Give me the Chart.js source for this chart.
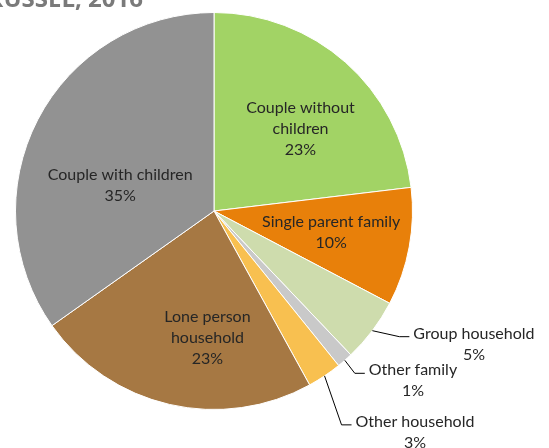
<!DOCTYPE html>
<html>
<head>
<meta charset="utf-8">
<script src="https://cdn.jsdelivr.net/npm/chart.js@4.4.1/dist/chart.umd.min.js"></script>
<style>
html,body{margin:0;padding:0;background:#fff;}
#wrap{width:549px;height:448px;position:relative;}
</style>
</head>
<body>
<div id="wrap"><canvas id="c" width="549" height="448"></canvas></div>
<script>
// Data
const categories = ["Couple without children","Single parent family","Group household","Other family","Other household","Lone person household","Couple with children"];
const labelLines = [["Couple without","children"],["Single parent family"],["Group household"],["Other family"],["Other household"],["Lone person","household"],["Couple with children"]];
const shares = [23.1, 9.6, 5.2, 1.3, 2.8, 23.2, 34.8];
const colors = ["#A2D365","#E8800A","#CEDCAD","#C9C9C9","#F8C050","#A67843","#929292"];
const titleText = "HOUSEHOLD COMPOSITION, RUSSEL, 2016";

// label placement (style): inside = polar offset; outside = leader line
const placement = [
  {type:"in", r:0.60, da:5},
  {type:"in", r:0.60, da:0},
  {type:"out", elbow:[27,6], tail:10},
  {type:"out", elbow:[10,13], tail:10},
  {type:"out", elbow:[17,49], tail:10},
  {type:"in", r:0.64, da:-10},
  {type:"in", r:0.49, da:-12}
];

const FONT = "16px Lato";
const LH = 21;
const TXT = "#262626";

const labelPlugin = {
  id: "pieLabels",
  afterDatasetsDraw(chart) {
    const ctx = chart.ctx;
    const meta = chart.getDatasetMeta(0);
    ctx.save();
    ctx.font = FONT;
    ctx.fillStyle = TXT;
    ctx.textBaseline = "middle";
    meta.data.forEach((arc, i) => {
      const p = arc.getProps(["x","y","startAngle","endAngle","outerRadius"], true);
      const mid = (p.startAngle + p.endAngle) / 2;
      const pl = placement[i];
      const lines = labelLines[i].concat([Math.round(shares[i]) + "%"]);
      if (pl.type === "in") {
        const a = mid + pl.da * Math.PI / 180;
        const cx = p.x + Math.cos(a) * p.outerRadius * pl.r;
        const cy = p.y + Math.sin(a) * p.outerRadius * pl.r;
        ctx.textAlign = "center";
        const y0 = cy - (lines.length - 1) * LH / 2;
        lines.forEach((t, k) => ctx.fillText(t, cx, y0 + k * LH));
      } else {
        const sx = p.x + Math.cos(mid) * p.outerRadius;
        const sy = p.y + Math.sin(mid) * p.outerRadius;
        const ex = sx + pl.elbow[0], ey = sy + pl.elbow[1];
        const tx = ex + pl.tail;
        ctx.strokeStyle = "#000";
        ctx.lineWidth = 1;
        ctx.beginPath();
        ctx.moveTo(sx, sy); ctx.lineTo(ex, ey); ctx.lineTo(tx, ey);
        ctx.stroke();
        const w = ctx.measureText(lines[0]).width;
        const cx = tx + 4 + w / 2;
        ctx.textAlign = "center";
        ctx.fillText(lines[0], cx, ey - 3);
        ctx.fillText(lines[1], cx, ey - 3 + LH);
      }
    });
    ctx.restore();
  }
};

const titlePlugin = {
  id: "cutTitle",
  afterDraw(chart) {
    const ctx = chart.ctx;
    ctx.save();
    ctx.font = "bold 24px 'Open Sans'";
    ctx.fillStyle = "#7a7a7a";
    ctx.textAlign = "right";
    ctx.textBaseline = "alphabetic";
    ctx.fillText(titleText, 143, 7);
    ctx.restore();
  }
};

new Chart(document.getElementById("c"), {
  type: "pie",
  data: {
    labels: categories,
    datasets: [{
      data: shares,
      backgroundColor: colors,
      borderColor: "#ffffff",
      borderWidth: 1
    }]
  },
  options: {
    responsive: false,
    animation: false,
    layout: { padding: { left: 15, right: 136, top: 12, bottom: 38 } },
    plugins: { legend: { display: false }, tooltip: { enabled: false }, title: { display: false } }
  },
  plugins: [labelPlugin, titlePlugin]
});
</script>
</body>
</html>
